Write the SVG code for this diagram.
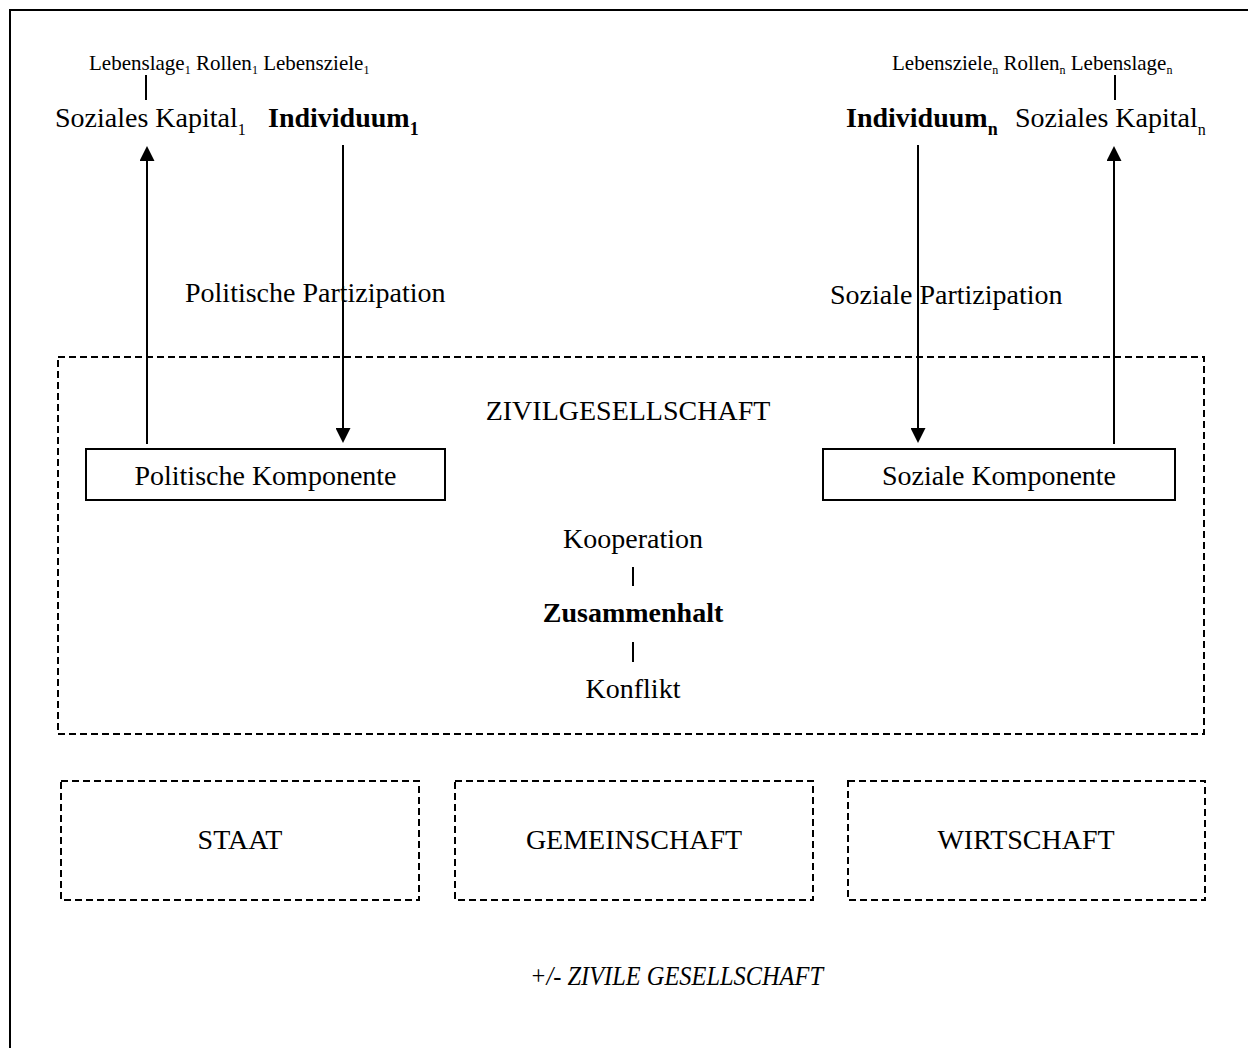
<svg xmlns="http://www.w3.org/2000/svg" width="1248" height="1048" viewBox="0 0 1248 1048">
<style>
text{font-family:"Liberation Serif","Times New Roman",serif;fill:#000}
.t{font-size:28px}
.s{font-size:21px}
.b{font-weight:bold}
.c{text-anchor:middle}
.box{fill:#fff;stroke:#000;stroke-width:2}
.dash{fill:none;stroke:#000;stroke-width:2;stroke-dasharray:7 4}
.conn{stroke:#000;stroke-width:2;fill:none}
</style>
<defs>
<marker id="ah" viewBox="0 0 10 10" refX="8.7" refY="5" markerWidth="15" markerHeight="15" markerUnits="userSpaceOnUse" orient="auto">
<path d="M0,0 L10,5 L0,10 z" fill="#000"/>
</marker>
</defs>
<rect width="1248" height="1048" fill="#fff"/>
<rect x="10" y="10" width="1260" height="1060" fill="none" stroke="#000" stroke-width="2"/>

<g id="zivilgesellschaft">
<rect class="dash" x="58" y="357" width="1146" height="377"/>
<text class="t c" x="628" y="420">ZIVILGESELLSCHAFT</text>
</g>

<g id="top-left-labels">
<text class="s" x="89" y="70">Lebenslage<tspan font-size="12" dy="4">1</tspan><tspan dy="-4"> Rollen</tspan><tspan font-size="12" dy="4">1</tspan><tspan dy="-4"> Lebensziele</tspan><tspan font-size="12" dy="4">1</tspan></text>
</g>
<g id="soziales-kapital-1">
<text class="t" x="55" y="127">Soziales Kapital<tspan font-size="16" dy="8">1</tspan></text>
</g>
<g id="individuum-1">
<text class="t b" x="268" y="127">Individuum<tspan font-size="18" dy="8">1</tspan></text>
</g>

<g id="top-right-labels">
<text class="s" x="892" y="70">Lebensziele<tspan font-size="12" dy="4">n</tspan><tspan dy="-4"> Rollen</tspan><tspan font-size="12" dy="4">n</tspan><tspan dy="-4"> Lebenslage</tspan><tspan font-size="12" dy="4">n</tspan></text>
</g>
<g id="individuum-n">
<text class="t b" x="846" y="127">Individuum<tspan font-size="18" dy="8">n</tspan></text>
</g>
<g id="soziales-kapital-n">
<text class="t" x="1015" y="127">Soziales Kapital<tspan font-size="16" dy="8">n</tspan></text>
</g>

<g id="politische-partizipation">
<text class="t" x="185" y="302">Politische Partizipation</text>
</g>
<g id="soziale-partizipation">
<text class="t" x="830" y="304">Soziale Partizipation</text>
</g>

<g id="politische-komponente">
<rect class="box" x="86" y="449" width="359" height="51"/>
<text class="t c" x="265.5" y="485">Politische Komponente</text>
</g>
<g id="soziale-komponente">
<rect class="box" x="823" y="449" width="352" height="51"/>
<text class="t c" x="999" y="485">Soziale Komponente</text>
</g>

<g id="zusammenhalt">
<text class="t c" x="633" y="548">Kooperation</text>
<text class="t b c" x="633" y="622">Zusammenhalt</text>
<text class="t c" x="633" y="698">Konflikt</text>
</g>

<g id="staat">
<rect class="dash" x="61" y="781" width="358" height="119"/>
<text class="t c" x="240" y="849">STAAT</text>
</g>
<g id="gemeinschaft">
<rect class="dash" x="455" y="781" width="358" height="119"/>
<text class="t c" x="634" y="849">GEMEINSCHAFT</text>
</g>
<g id="wirtschaft">
<rect class="dash" x="848" y="781" width="357" height="119"/>
<text class="t c" x="1026" y="849">WIRTSCHAFT</text>
</g>

<g id="zivile-gesellschaft">
<text class="t" x="530" y="985" font-style="italic" textLength="293" lengthAdjust="spacingAndGlyphs">+/- ZIVILE GESELLSCHAFT</text>
</g>

<g id="connectors">
<line class="conn" x1="146" y1="75" x2="146" y2="100"/>
<line class="conn" x1="1115" y1="75" x2="1115" y2="100"/>
<line class="conn" x1="147" y1="444" x2="147" y2="148" marker-end="url(#ah)"/>
<line class="conn" x1="343" y1="145" x2="343" y2="441" marker-end="url(#ah)"/>
<line class="conn" x1="918" y1="145" x2="918" y2="441" marker-end="url(#ah)"/>
<line class="conn" x1="1114" y1="444" x2="1114" y2="148" marker-end="url(#ah)"/>
<line class="conn" x1="633" y1="567" x2="633" y2="586"/>
<line class="conn" x1="633" y1="642" x2="633" y2="662"/>
</g>
</svg>
